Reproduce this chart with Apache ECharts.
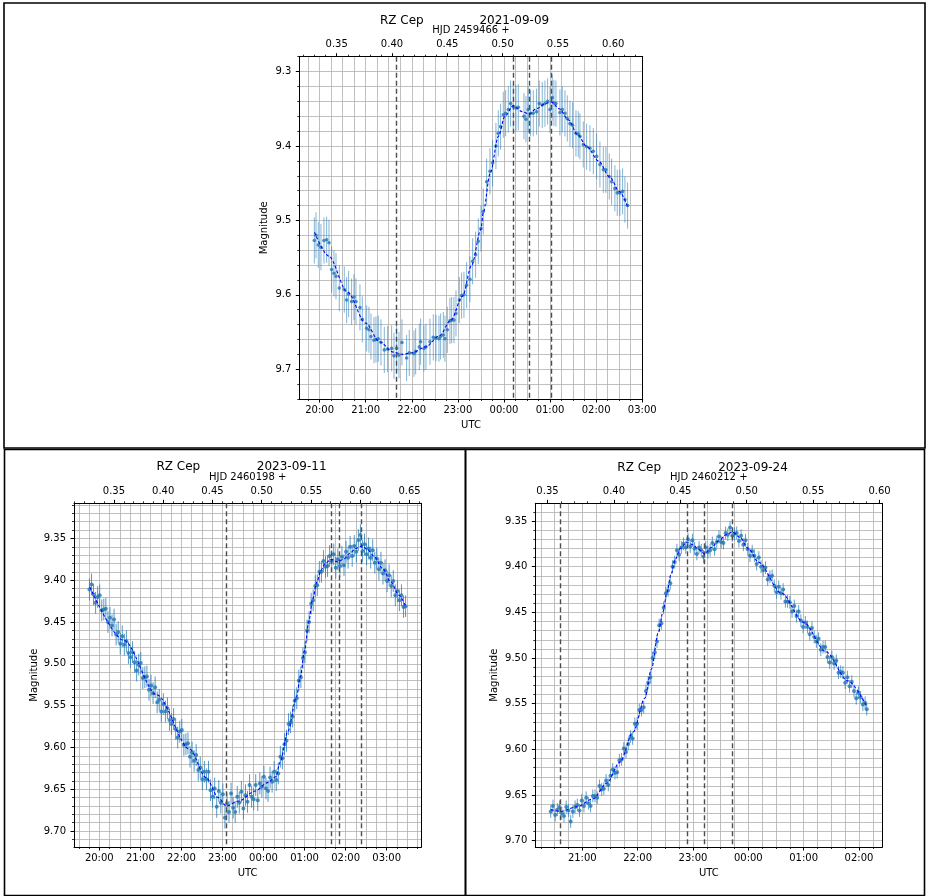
<!DOCTYPE html>
<html><head><meta charset="utf-8">
<script src="https://cdn.jsdelivr.net/npm/echarts@6.0.0/dist/echarts.min.js"></script>
<style>html,body{margin:0;padding:0;background:#fff}#c{width:926px;height:896px}</style>
</head><body><div id="c"></div>
<script>
// ---------------- DATA ----------------
const TOP_TITLE = ['RZ Cep', '2021-09-09'];
const BL_TITLE = ['RZ Cep', '2023-09-11'];
const BR_TITLE = ['RZ Cep', '2023-09-24'];
const TOP_HJD_BASE = '2459466';
const BL_HJD_BASE = '2460198';
const BR_HJD_BASE = '2460212';

// UTC in hours (24 = 00:00 of the title date)
const TOP_UTC_TICKS = [20, 21, 22, 23, 24, 25, 26, 27];
const BL_UTC_TICKS = [20, 21, 22, 23, 24, 25, 26, 27];
const BR_UTC_TICKS = [21, 22, 23, 24, 25, 26];
const TOP_HJD_TICKS = [0.35, 0.40, 0.45, 0.50, 0.55, 0.60];
const BL_HJD_TICKS = [0.35, 0.40, 0.45, 0.50, 0.55, 0.60, 0.65];
const BR_HJD_TICKS = [0.35, 0.40, 0.45, 0.50, 0.55, 0.60];
const TOP_MAG_TICKS = [9.3, 9.4, 9.5, 9.6, 9.7];
const BL_MAG_TICKS = [9.35, 9.40, 9.45, 9.50, 9.55, 9.60, 9.65, 9.70];
const BR_MAG_TICKS = [9.35, 9.40, 9.45, 9.50, 9.55, 9.60, 9.65, 9.70];

const TOP_ERR = 0.031;
const BL_ERR = 0.013;
const BR_ERR = 0.007;

const TOP_POINTS = [[19.886,9.527],[19.922,9.520],[19.972,9.533],[20.030,9.536],[20.095,9.527],[20.153,9.526],[20.204,9.530],[20.262,9.566],[20.312,9.571],[20.356,9.575],[20.428,9.591],[20.536,9.593],[20.587,9.607],[20.630,9.599],[20.695,9.609],[20.746,9.603],[20.789,9.609],[20.876,9.617],[20.927,9.633],[21.021,9.645],[21.071,9.647],[21.115,9.656],[21.180,9.661],[21.223,9.660],[21.274,9.659],[21.332,9.664],[21.404,9.674],[21.476,9.673],[21.563,9.672],[21.614,9.682],[21.672,9.672],[21.722,9.681],[21.787,9.664],[21.888,9.685],[21.946,9.678],[22.048,9.679],[22.084,9.676],[22.163,9.670],[22.192,9.663],[22.264,9.672],[22.308,9.670],[22.395,9.663],[22.467,9.657],[22.525,9.658],[22.590,9.659],[22.626,9.656],[22.684,9.654],[22.720,9.659],[22.771,9.647],[22.828,9.635],[22.865,9.634],[22.915,9.634],[22.959,9.625],[23.031,9.607],[23.081,9.601],[23.132,9.600],[23.190,9.587],[23.262,9.579],[23.320,9.555],[23.385,9.546],[23.443,9.528],[23.501,9.511],[23.551,9.488],[23.624,9.448],[23.696,9.434],[23.754,9.423],[23.826,9.400],[23.877,9.383],[23.927,9.374],[23.985,9.358],[24.036,9.356],[24.094,9.351],[24.144,9.343],[24.202,9.347],[24.260,9.349],[24.311,9.348],[24.434,9.360],[24.477,9.364],[24.528,9.351],[24.578,9.356],[24.636,9.356],[24.708,9.354],[24.766,9.343],[24.831,9.345],[24.889,9.343],[24.947,9.340],[24.998,9.351],[25.048,9.335],[25.084,9.342],[25.128,9.343],[25.214,9.355],[25.265,9.351],[25.323,9.356],[25.374,9.363],[25.432,9.370],[25.489,9.372],[25.562,9.383],[25.612,9.384],[25.648,9.387],[25.721,9.398],[25.793,9.401],[25.865,9.403],[25.938,9.407],[26.010,9.414],[26.082,9.425],[26.155,9.432],[26.212,9.432],[26.285,9.441],[26.335,9.448],[26.407,9.457],[26.458,9.463],[26.516,9.463],[26.574,9.461],[26.624,9.472],[26.682,9.480]];
const TOP_FIT = [[19.89,9.516],[20.2,9.548],[20.6,9.596],[21.0,9.638],[21.3,9.663],[21.6,9.677],[21.8,9.680],[22.0,9.678],[22.3,9.670],[22.6,9.655],[22.85,9.634],[23.1,9.602],[23.3,9.560],[23.5,9.512],[23.55,9.490],[23.7,9.437],[23.88,9.387],[24.02,9.360],[24.2,9.346],[24.4,9.354],[24.55,9.357],[24.7,9.350],[24.9,9.343],[25.03,9.341],[25.2,9.350],[25.4,9.365],[25.6,9.385],[25.8,9.401],[26.05,9.420],[26.3,9.442],[26.5,9.461],[26.68,9.481]];
const TOP_VLINES = [21.657, 24.20, 24.549, 25.02];

const BL_POINTS = [[19.76,9.411],[19.81,9.405],[19.86,9.417],[19.91,9.427],[19.96,9.420],[20.01,9.418],[20.06,9.436],[20.11,9.435],[20.16,9.434],[20.21,9.450],[20.26,9.445],[20.31,9.454],[20.36,9.447],[20.41,9.465],[20.46,9.462],[20.51,9.476],[20.56,9.467],[20.61,9.477],[20.66,9.473],[20.71,9.487],[20.76,9.492],[20.81,9.486],[20.86,9.498],[20.91,9.508],[20.96,9.501],[21.01,9.499],[21.06,9.517],[21.11,9.516],[21.16,9.515],[21.21,9.531],[21.26,9.526],[21.31,9.535],[21.36,9.528],[21.41,9.546],[21.46,9.543],[21.51,9.557],[21.56,9.548],[21.61,9.557],[21.66,9.553],[21.71,9.567],[21.76,9.572],[21.81,9.566],[21.86,9.578],[21.91,9.588],[21.96,9.581],[22.01,9.579],[22.06,9.597],[22.11,9.596],[22.16,9.595],[22.21,9.611],[22.26,9.606],[22.31,9.616],[22.36,9.609],[22.41,9.627],[22.46,9.624],[22.51,9.638],[22.56,9.629],
[22.61,9.638],[22.66,9.629],[22.71,9.651],[22.76,9.659],[22.81,9.649],[22.86,9.671],[22.91,9.652],[22.96,9.666],[23.01,9.656],[23.06,9.684],[23.11,9.667],[23.16,9.677],[23.21,9.655],[23.26,9.672],[23.31,9.677],[23.36,9.659],[23.41,9.666],[23.46,9.653],[23.51,9.673],[23.56,9.657],[23.61,9.665],[23.66,9.645],[23.71,9.659],[23.76,9.662],[23.81,9.645],[23.86,9.663],[23.91,9.643],[23.96,9.647],[24.01,9.635],[24.06,9.649],[24.11,9.652],[24.16,9.636],[24.21,9.641],[24.26,9.629],[24.31,9.639],
[24.36,9.631],[24.41,9.611],[24.46,9.613],[24.51,9.596],[24.56,9.592],[24.61,9.572],[24.66,9.570],[24.71,9.563],[24.76,9.544],[24.81,9.541],[24.86,9.520],[24.91,9.516],[24.96,9.493],[25.01,9.486],[25.06,9.460],[25.11,9.450],[25.16,9.428],[25.21,9.424],[25.26,9.407],[25.31,9.406],[25.36,9.390],[25.41,9.390],[25.46,9.377],[25.51,9.384],
[25.56,9.383],[25.61,9.371],[25.66,9.377],[25.71,9.369],[25.76,9.385],[25.81,9.375],[25.86,9.383],[25.91,9.372],[25.96,9.382],[26.01,9.366],[26.06,9.373],[26.11,9.360],[26.16,9.371],[26.21,9.359],[26.26,9.366],[26.31,9.352],[26.36,9.346],[26.41,9.365],[26.46,9.357],[26.51,9.369],[26.56,9.362],[26.61,9.373],[26.66,9.364],[26.71,9.379],[26.76,9.374],[26.81,9.387],[26.86,9.379],[26.91,9.392],[26.96,9.388],[27.01,9.401],[27.06,9.394],[27.11,9.407],[27.16,9.401],[27.21,9.418],[27.26,9.413],[27.31,9.424],[27.36,9.418],[27.41,9.432],[27.46,9.431]];
const BL_FIT = [[19.77,9.408],[20.6,9.472],[21.4,9.537],[22.2,9.602],[22.6,9.636],[22.9,9.660],[23.09,9.670],[23.4,9.664],[23.8,9.652],[24.1,9.642],[24.3,9.635],[24.4,9.618],[24.6,9.580],[24.8,9.540],[24.9,9.515],[25.0,9.484],[25.1,9.450],[25.2,9.422],[25.3,9.402],[25.4,9.388],[25.5,9.380],[25.65,9.375],[25.8,9.378],[25.95,9.375],[26.1,9.368],[26.25,9.362],[26.4,9.359],[26.55,9.364],[26.7,9.372],[26.9,9.386],[27.1,9.402],[27.3,9.418],[27.45,9.430]];
const BL_VLINES = [23.086, 25.636, 25.838, 26.39];

const BR_POINTS = [[20.43,9.668],[20.47,9.662],[20.51,9.672],[20.55,9.666],[20.59,9.663],[20.63,9.670],[20.67,9.673],[20.71,9.663],[20.75,9.667],[20.79,9.679],[20.83,9.668],[20.87,9.663],[20.91,9.661],[20.95,9.667],[20.99,9.656],[21.03,9.662],[21.07,9.653],[21.11,9.659],[21.15,9.662],[21.19,9.651],[21.23,9.651],[21.27,9.653],[21.31,9.640],[21.35,9.644],[21.39,9.643],[21.43,9.634],[21.47,9.639],[21.51,9.629],[21.55,9.622],[21.59,9.626],[21.63,9.625],[21.67,9.612],[21.71,9.611],[21.75,9.599],[21.79,9.603],[21.83,9.594],[21.87,9.586],[21.91,9.588],[21.95,9.572],[21.99,9.572],[22.03,9.557],[22.07,9.557],[22.11,9.554],[22.15,9.536],[22.19,9.527],[22.23,9.521],[22.27,9.500],[22.31,9.494],[22.35,9.482],[22.39,9.464],[22.43,9.462],[22.47,9.445],[22.51,9.429],[22.55,9.426],[22.59,9.418],[22.63,9.400],[22.67,9.395],[22.71,9.382],[22.75,9.387],[22.79,9.379],[22.83,9.375],[22.87,9.379],[22.91,9.370],[22.95,9.378],[22.99,9.371],[23.03,9.380],[23.07,9.386],[23.11,9.379],[23.15,9.382],[23.19,9.389],[23.23,9.379],[23.27,9.384],[23.31,9.382],[23.35,9.374],[23.39,9.381],[23.43,9.373],[23.47,9.367],[23.51,9.373],[23.55,9.374],[23.59,9.363],[23.63,9.365],[23.67,9.357],[23.71,9.366],[23.75,9.364],[23.79,9.363],[23.83,9.372],[23.87,9.366],[23.91,9.376],[23.95,9.371],[23.99,9.381],[24.03,9.388],[24.07,9.383],[24.11,9.388],[24.15,9.397],[24.19,9.390],[24.23,9.400],[24.27,9.404],[24.31,9.401],[24.35,9.414],[24.39,9.411],[24.43,9.410],[24.47,9.421],[24.51,9.428],[24.55,9.422],[24.59,9.429],[24.63,9.425],[24.67,9.438],[24.71,9.438],[24.75,9.439],[24.79,9.449],[24.83,9.443],[24.87,9.454],[24.91,9.449],[24.95,9.459],[24.99,9.466],[25.03,9.461],[25.07,9.466],[25.11,9.474],[25.15,9.467],[25.19,9.477],[25.23,9.482],[25.27,9.479],[25.31,9.491],[25.35,9.488],[25.39,9.488],[25.43,9.499],[25.47,9.505],[25.51,9.499],[25.55,9.506],[25.59,9.503],[25.63,9.516],[25.67,9.515],[25.71,9.516],[25.75,9.527],[25.79,9.521],[25.83,9.531],[25.87,9.526],[25.91,9.536],[25.95,9.544],[25.99,9.538],[26.03,9.543],[26.07,9.551],[26.11,9.549],[26.14,9.556]];
const BR_FIT = [[20.43,9.666],[20.6,9.668],[20.9,9.663],[21.2,9.654],[21.44,9.637],[21.68,9.614],[21.92,9.581],[22.13,9.544],[22.25,9.512],[22.37,9.473],[22.46,9.449],[22.53,9.428],[22.6,9.409],[22.68,9.392],[22.77,9.380],[22.89,9.373],[23.0,9.376],[23.1,9.381],[23.21,9.386],[23.33,9.379],[23.46,9.372],[23.6,9.365],[23.71,9.362],[23.85,9.368],[24.0,9.380],[24.18,9.395],[24.6,9.429],[25.0,9.461],[25.4,9.493],[25.8,9.525],[26.14,9.553]];
const BR_VLINES = [20.61, 22.887, 23.2, 23.711];

// ---------------- LAYOUT ----------------
const FONT = 'DejaVu Sans';
const PANELS = [
  {grid:{left:299.3, top:56.7, width:343.4, height:342.3}, xMin:19.56, xMax:27.01, yMin:9.28, yMax:9.74, hjd0:0.5012,
   base:TOP_HJD_BASE, utc:TOP_UTC_TICKS, hjd:TOP_HJD_TICKS, mag:TOP_MAG_TICKS, magStep:0.02, magDigits:1,
   points:TOP_POINTS, err:TOP_ERR, fit:TOP_FIT, vlines:TOP_VLINES, magGap:30, title:TOP_TITLE, tx:[401.8,514.3], ty:21,
   barAlpha:0.55, dot:3.6},
  {grid:{left:74, top:503.3, width:347.3, height:343.7}, xMin:19.384, xMax:27.843, yMin:9.308, yMax:9.719, hjd0:0.5018,
   base:BL_HJD_BASE, utc:BL_UTC_TICKS, hjd:BL_HJD_TICKS, mag:BL_MAG_TICKS, magStep:0.01, magDigits:2,
   points:BL_POINTS, err:BL_ERR, fit:BL_FIT, vlines:BL_VLINES, magGap:34.5, title:BL_TITLE, tx:[178.3,291.7], ty:467,
   barAlpha:0.75, dot:4},
  {grid:{left:535.3, top:503.3, width:347, height:343.7}, xMin:20.151, xMax:26.421, yMin:9.3306, yMax:9.7069, hjd0:0.5012,
   base:BR_HJD_BASE, utc:BR_UTC_TICKS, hjd:BR_HJD_TICKS, mag:BR_MAG_TICKS, magStep:0.01, magDigits:2,
   points:BR_POINTS, err:BR_ERR, fit:BR_FIT, vlines:BR_VLINES, magGap:36, title:BR_TITLE, tx:[639.2,753], ty:467.5,
   barAlpha:0.7, dot:4}
];

function stepTicks(lo, hi, step) {
  const out = [];
  for (let k = Math.ceil(lo / step - 1e-9); k * step <= hi + 1e-9; k++) out.push(Math.round(k * step * 1e6) / 1e6);
  return out;
}
function hourLabel(v) { const h = ((Math.round(v) % 24) + 24) % 24; return (h < 10 ? '0' : '') + h + ':00'; }

const TXT = {fontSize:10, fontFamily:FONT, color:'#000'};
const SPINE = {show:true, onZero:false, lineStyle:{color:'#000', width:1}};
const GRIDLINE = {show:true, lineStyle:{color:'#b0b0b0', width:0.8}};

const grids = [], xAxes = [], yAxes = [], series = [], graphics = [];
PANELS.forEach((p, gi) => {
  grids.push(Object.assign({containLabel:false, outerBoundsMode:'none'}, p.grid));
  const hMin = p.hjd0 + (p.xMin - 24) / 24, hMax = p.hjd0 + (p.xMax - 24) / 24;
  const xi = xAxes.length, yi = yAxes.length;
  xAxes.push({type:'value', gridIndex:gi, position:'bottom', min:p.xMin, max:p.xMax, axisLine:SPINE,
    axisTick:{show:true, length:3.5, customValues:p.utc, lineStyle:{color:'#000', width:1}},
    axisLabel:Object.assign({show:true, customValues:p.utc, formatter:hourLabel, margin:6}, TXT),
    splitLine:{show:false}, name:'UTC', nameLocation:'middle', nameGap:21, nameTextStyle:TXT});
  xAxes.push({type:'value', gridIndex:gi, position:'bottom', min:p.xMin, max:p.xMax, axisLine:{show:false, onZero:false},
    axisTick:{show:true, length:2, customValues:stepTicks(p.xMin, p.xMax, 0.25), lineStyle:{color:'#000', width:0.8}},
    axisLabel:{show:false}, splitLine:GRIDLINE});
  xAxes.push({type:'value', gridIndex:gi, position:'top', min:hMin, max:hMax, axisLine:SPINE,
    axisTick:{show:true, length:3.5, customValues:p.hjd, lineStyle:{color:'#000', width:1}},
    axisLabel:Object.assign({show:true, customValues:p.hjd, formatter:v => v.toFixed(2), margin:7}, TXT),
    splitLine:{show:false}, name:'HJD ' + p.base + ' +', nameLocation:'middle', nameGap:21, nameTextStyle:TXT});
  xAxes.push({type:'value', gridIndex:gi, position:'top', min:hMin, max:hMax, axisLine:{show:false, onZero:false},
    axisTick:{show:true, length:2, customValues:stepTicks(hMin, hMax, 0.01), lineStyle:{color:'#000', width:0.8}},
    axisLabel:{show:false}, splitLine:{show:false}});
  yAxes.push({type:'value', gridIndex:gi, position:'left', inverse:true, min:p.yMin, max:p.yMax, axisLine:SPINE,
    axisTick:{show:true, length:3.5, customValues:p.mag, lineStyle:{color:'#000', width:1}},
    axisLabel:Object.assign({show:true, customValues:p.mag, formatter:v => v.toFixed(p.magDigits), margin:8}, TXT),
    splitLine:{show:false}, name:'Magnitude', nameLocation:'middle', nameGap:p.magGap, nameRotate:90, nameTextStyle:TXT});
  yAxes.push({type:'value', gridIndex:gi, position:'left', inverse:true, min:p.yMin, max:p.yMax, axisLine:{show:false, onZero:false},
    axisTick:{show:true, length:2, customValues:stepTicks(p.yMin, p.yMax, p.magStep), lineStyle:{color:'#000', width:0.8}},
    axisLabel:{show:false}, splitLine:GRIDLINE});
  yAxes.push({type:'value', gridIndex:gi, position:'right', inverse:true, min:p.yMin, max:p.yMax, axisLine:SPINE,
    axisTick:{show:false}, axisLabel:{show:false}, splitLine:{show:false}});

  const err = p.err, alpha = p.barAlpha;
  series.push({type:'custom', xAxisIndex:xi, yAxisIndex:yi, silent:true, z:3,
    data:p.points.map(d => [d[0], d[1], err]), encode:{x:0, y:1},
    renderItem:(params, api) => {
      const x = api.value(0), y = api.value(1), e = api.value(2);
      const a = api.coord([x, y - e]), b = api.coord([x, y + e]);
      return {type:'line', shape:{x1:a[0], y1:a[1], x2:b[0], y2:b[1]}, style:{stroke:'#1f77b4', opacity:alpha, lineWidth:1}};
    }});
  series.push({type:'scatter', xAxisIndex:xi, yAxisIndex:yi, silent:true, z:4, data:p.points, symbol:'circle', symbolSize:p.dot,
    itemStyle:{color:'#1f77b4'}});
  series.push({type:'line', xAxisIndex:xi, yAxisIndex:yi, silent:true, z:5, data:p.fit, showSymbol:false, symbol:'none',
    smooth:0.3, smoothMonotone:'x', lineStyle:{color:'#0000ff', width:1.1, type:[3, 2]},
    markLine:{silent:true, symbol:['none', 'none'], label:{show:false}, animation:false,
      lineStyle:{color:'#4d4d4d', width:1.4, type:[5, 3]}, data:p.vlines.map(v => ({xAxis:v}))}});

  graphics.push({type:'text', x:p.tx[0], y:p.ty, style:{text:p.title[0], fill:'#000', fontSize:12, fontFamily:FONT, align:'center', verticalAlign:'middle'}});
  graphics.push({type:'text', x:p.tx[1], y:p.ty, style:{text:p.title[1], fill:'#000', fontSize:12, fontFamily:FONT, align:'center', verticalAlign:'middle'}});
});

// panel frames
graphics.push({type:'rect', shape:{x:4, y:3, width:921, height:445}, style:{fill:'none', stroke:'#000', lineWidth:1.6}});
graphics.push({type:'rect', shape:{x:4.5, y:449.5, width:461, height:446}, style:{fill:'none', stroke:'#000', lineWidth:1.6}});
graphics.push({type:'rect', shape:{x:465.5, y:449.5, width:459, height:446}, style:{fill:'none', stroke:'#000', lineWidth:1.6}});

const chart = echarts.init(document.getElementById('c'), null, {renderer:'canvas'});
chart.setOption({
  animation:false,
  backgroundColor:'#fff',
  textStyle:{fontFamily:FONT},
  grid:grids, xAxis:xAxes, yAxis:yAxes, series:series,
  graphic:{elements:graphics}
});
</script>
</body></html>
